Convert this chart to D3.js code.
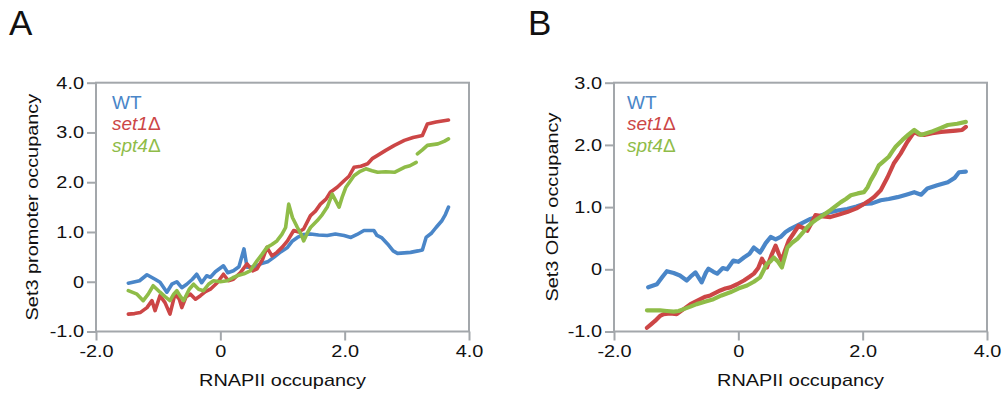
<!DOCTYPE html>
<html>
<head>
<meta charset="utf-8">
<script src="https://cdn.jsdelivr.net/npm/d3@7"></script>
<style>
  body { margin: 0; background: #fff; }
  text { font-family: "Liberation Sans", Arial, sans-serif; }
</style>
</head>
<body>
<script>
// ---- data ----
const strains = ["WT", "set1", "spt4"];
const colors = ["#4a86c8", "#cc4646", "#8fbc48"];

const xTicks = [-2, 0, 2, 4];
const xTickLabels = ["-2.0", "0", "2.0", "4.0"];
const aYTicks = [-1, 0, 1, 2, 3, 4];
const aYTickLabels = ["-1.0", "0", "1.0", "2.0", "3.0", "4.0"];
const bYTicks = [-1, 0, 1, 2, 3];
const bYTickLabels = ["-1.0", "0", "1.0", "2.0", "3.0"];

// panel A: Set3 promoter occupancy vs RNAPII occupancy (null = gap in the trace)
const aWT = [[-1.48,-0.03],[-1.30,0.02],[-1.18,0.14],[-1.05,0.05],[-0.97,-0.01],[-0.86,-0.21],[-0.78,-0.05],[-0.70,0.0],
  [-0.62,-0.12],[-0.54,-0.05],[-0.45,0.05],[-0.38,0.15],[-0.30,-0.02],[-0.22,0.12],[-0.16,0.09],[-0.08,0.20],[0.05,0.32],
  [0.12,0.18],[0.21,0.22],[0.30,0.30],[0.38,0.66],[0.43,0.29],[0.55,0.30],[0.65,0.36],[0.76,0.40],[0.86,0.49],[0.97,0.60],
  [1.08,0.69],[1.16,0.82],[1.24,0.89],[1.34,0.95],[1.45,0.96],[1.58,0.94],[1.72,0.93],[1.85,0.96],[1.99,0.93],[2.10,0.89],
  [2.20,0.95],[2.31,1.03],[2.47,1.03],[2.52,0.93],[2.60,0.88],[2.69,0.76],[2.78,0.62],[2.85,0.57],[2.96,0.58],[3.06,0.59],
  [3.18,0.62],[3.25,0.64],[3.31,0.89],[3.40,0.98],[3.47,1.09],[3.56,1.22],[3.62,1.35],[3.67,1.50]];
const aSet1 = [[-1.48,-0.65],[-1.38,-0.64],[-1.29,-0.62],[-1.18,-0.52],[-1.10,-0.38],[-1.05,-0.58],[-0.97,-0.28],[-0.89,-0.42],
  [-0.81,-0.65],[-0.73,-0.25],[-0.66,-0.35],[-0.62,-0.52],[-0.55,-0.30],[-0.48,-0.25],[-0.40,-0.35],[-0.32,-0.28],
  [-0.24,-0.20],[-0.16,-0.15],[-0.05,-0.02],[0.05,0.15],[0.13,0.02],[0.21,0.05],[0.32,0.18],[0.43,0.36],[0.52,0.22],
  [0.59,0.26],[0.68,0.45],[0.75,0.69],[0.83,0.52],[0.91,0.59],[1.00,0.70],[1.08,0.82],[1.18,1.03],[1.26,1.00],[1.34,1.06],
  [1.45,1.33],[1.53,1.42],[1.61,1.56],[1.70,1.66],[1.77,1.80],[1.88,1.90],[1.99,2.03],[2.07,2.12],[2.15,2.30],[2.26,2.32],
  [2.37,2.37],[2.45,2.48],[2.53,2.54],[2.66,2.64],[2.80,2.74],[2.96,2.84],[3.10,2.90],[3.25,2.94],[3.33,3.17],[3.47,3.21],
  [3.57,3.23],[3.67,3.25]];
const aSpt4 = [[-1.48,-0.18],[-1.34,-0.25],[-1.24,-0.38],[-1.16,-0.25],[-1.08,-0.08],[-0.97,-0.21],[-0.89,-0.30],[-0.81,-0.38],
  [-0.75,-0.25],[-0.70,-0.18],[-0.64,-0.30],[-0.59,-0.38],[-0.50,-0.15],[-0.43,-0.05],[-0.35,-0.15],[-0.27,-0.18],
  [-0.19,-0.05],[-0.11,0.02],[0.0,0.0],[0.11,0.02],[0.20,0.08],[0.27,0.12],[0.38,0.16],[0.48,0.22],[0.59,0.42],[0.67,0.55],
  [0.75,0.69],[0.83,0.75],[0.91,0.82],[0.99,0.95],[1.05,1.09],[1.10,1.56],[1.16,1.29],[1.24,1.09],[1.30,0.95],[1.34,0.82],
  [1.40,0.98],[1.45,1.09],[1.56,1.23],[1.64,1.35],[1.72,1.50],[1.80,1.76],[1.86,1.62],[1.91,1.50],[1.96,1.70],[2.02,1.90],
  [2.15,2.13],[2.25,2.22],[2.34,2.27],[2.44,2.23],[2.53,2.20],[2.66,2.21],[2.80,2.20],[2.96,2.30],[3.05,2.33],[3.15,2.40],
  [3.16,null],[3.17,2.57],[3.25,2.65],[3.33,2.74],[3.50,2.77],[3.60,2.82],[3.67,2.87]];

// panel B: Set3 ORF occupancy vs RNAPII occupancy
const bWT = [[-1.45,-0.29],[-1.31,-0.24],[-1.22,-0.12],[-1.15,-0.03],[-1.04,-0.06],[-0.94,-0.10],[-0.83,-0.18],[-0.75,-0.10],
  [-0.69,-0.05],[-0.59,-0.21],[-0.52,-0.05],[-0.48,0.01],[-0.40,-0.04],[-0.34,-0.07],[-0.25,0.02],[-0.18,0.0],[-0.08,0.14],
  [0.0,0.12],[0.09,0.19],[0.18,0.25],[0.25,0.35],[0.35,0.27],[0.44,0.42],[0.52,0.52],[0.60,0.48],[0.68,0.52],[0.76,0.60],
  [0.84,0.65],[1.00,0.73],[1.16,0.81],[1.32,0.86],[1.48,0.92],[1.62,0.95],[1.75,0.97],[1.90,1.01],[2.02,1.05],[2.15,1.06],
  [2.29,1.11],[2.42,1.13],[2.56,1.16],[2.70,1.20],[2.83,1.24],[2.94,1.20],[3.04,1.30],[3.20,1.35],[3.37,1.40],[3.48,1.47],
  [3.55,1.56],[3.66,1.57]];
const bSet1 = [[-1.47,-0.94],[-1.40,-0.88],[-1.34,-0.83],[-1.26,-0.75],[-1.20,-0.72],[-1.10,-0.71],[-0.99,-0.72],[-0.88,-0.64],
  [-0.77,-0.56],[-0.69,-0.52],[-0.61,-0.48],[-0.53,-0.44],[-0.45,-0.42],[-0.37,-0.38],[-0.29,-0.34],[-0.21,-0.31],
  [-0.13,-0.29],[-0.02,-0.24],[0.09,-0.18],[0.18,-0.12],[0.25,-0.07],[0.32,0.02],[0.38,0.17],[0.46,0.03],[0.53,0.22],
  [0.60,0.38],[0.65,0.25],[0.70,0.14],[0.75,0.30],[0.81,0.46],[0.89,0.58],[0.97,0.70],[1.05,0.66],[1.11,0.62],[1.18,0.75],
  [1.24,0.87],[1.36,0.85],[1.48,0.84],[1.62,0.88],[1.75,0.92],[1.90,0.98],[2.02,1.05],[2.10,1.10],[2.18,1.16],[2.29,1.27],
  [2.40,1.48],[2.50,1.70],[2.61,1.86],[2.72,2.05],[2.83,2.21],[2.90,2.17],[2.99,2.16],[3.12,2.19],[3.26,2.21],[3.50,2.23],
  [3.60,2.24],[3.66,2.29]];
const bSpt4 = [[-1.47,-0.66],[-1.36,-0.66],[-1.26,-0.66],[-1.15,-0.67],[-1.04,-0.68],[-0.96,-0.67],[-0.88,-0.64],[-0.77,-0.60],
  [-0.67,-0.56],[-0.54,-0.52],[-0.40,-0.48],[-0.27,-0.42],[-0.13,-0.37],[0.0,-0.31],[0.14,-0.26],[0.25,-0.20],[0.35,-0.13],
  [0.46,0.09],[0.52,0.13],[0.57,0.19],[0.64,0.12],[0.70,0.03],[0.79,0.35],[0.87,0.43],[0.95,0.49],[1.03,0.58],[1.11,0.68],
  [1.19,0.75],[1.27,0.81],[1.38,0.88],[1.48,0.95],[1.57,1.02],[1.65,1.08],[1.73,1.13],[1.81,1.19],[1.92,1.22],[2.02,1.24],
  [2.08,1.32],[2.13,1.43],[2.20,1.55],[2.26,1.67],[2.34,1.74],[2.42,1.81],[2.48,1.90],[2.53,1.97],[2.64,2.08],[2.74,2.17],
  [2.83,2.24],[2.94,2.16],[3.10,2.21],[3.25,2.27],[3.37,2.32],[3.52,2.34],[3.66,2.37]];

// ---- layout ----
const W = 1003, H = 395;
const plotTop = 82.7, plotBottom = 331.5;

const svg = d3.select("body").append("svg")
    .attr("width", W)
    .attr("height", H);

// widen text along its own direction (the source font is set wide)
function stretch(sel, k) {
    sel.each(function () {
        const L = this.getComputedTextLength();
        d3.select(this).attr("textLength", L * k).attr("lengthAdjust", "spacingAndGlyphs");
    });
}

function drawPanel(o) {
    const x = d3.scaleLinear().domain([-2, 4]).range([o.left, o.right]);
    const y = d3.scaleLinear().domain(o.yDomain).range([plotBottom, plotTop]);
    const axisColor = "#a3a7ab";

    const line = d3.line()
        .defined(d => d[1] != null)
        .x(d => x(d[0]))
        .y(d => y(d[1]));

    // series, WT first so the mutants sit on top
    o.series.forEach((s, i) => {
        svg.append("path")
            .datum(s)
            .attr("fill", "none")
            .attr("stroke", colors[i])
            .attr("stroke-width", o.lineWidth)
            .attr("stroke-linejoin", "round")
            .attr("stroke-linecap", "round")
            .attr("d", line);
    });

    // frame
    svg.append("rect")
        .attr("x", o.left)
        .attr("y", plotTop)
        .attr("width", o.right - o.left)
        .attr("height", plotBottom - plotTop)
        .attr("fill", "none")
        .attr("stroke", axisColor)
        .attr("stroke-width", 2);

    // axes
    const gx = svg.append("g")
        .attr("transform", "translate(0," + plotBottom + ")")
        .call(d3.axisBottom(x).tickValues(xTicks).tickFormat((d, i) => xTickLabels[i]).tickSize(9).tickPadding(4).tickSizeOuter(0));
    const gy = svg.append("g")
        .attr("transform", "translate(" + o.left + ",0)")
        .call(d3.axisLeft(y).tickValues(o.yTicks).tickFormat((d, i) => o.yTickLabels[i]).tickSize(9).tickPadding(3).tickSizeOuter(0));

    [gx, gy].forEach(g => {
        g.select(".domain").remove();
        g.selectAll(".tick line").attr("stroke", axisColor).attr("stroke-width", 2);
        g.selectAll(".tick text")
            .attr("fill", "#111")
            .attr("font-size", 17)
            .attr("font-family", "Liberation Sans, Arial, sans-serif")
            .call(stretch, 1.17);
    });

    // axis titles
    svg.append("text")
        .attr("x", (o.left + o.right) / 2)
        .attr("y", 386)
        .attr("text-anchor", "middle")
        .attr("font-size", 17)
        .attr("fill", "#111")
        .text("RNAPII occupancy")
        .call(stretch, 1.17);

    svg.append("text")
        .attr("transform", "translate(" + o.yTitleX + "," + ((plotTop + plotBottom) / 2) + ") rotate(-90)")
        .attr("text-anchor", "middle")
        .attr("font-size", 17)
        .attr("fill", "#111")
        .text(o.yTitle)
        .call(stretch, 1.17);

    // legend
    const legendY = [109, 130, 152];
    strains.forEach((name, i) => {
        const t = svg.append("text")
            .attr("x", o.left + o.legendDx)
            .attr("y", legendY[i])
            .attr("font-size", 19)
            .attr("fill", colors[i]);
        if (i === 0) {
            t.text(name);
        } else {
            t.append("tspan").attr("font-style", "italic").text(name);
            t.append("tspan").text("\u0394");
        }
    });

    // panel letter
    svg.append("text")
        .attr("x", o.letterX)
        .attr("y", 35)
        .attr("font-size", 35)
        .attr("fill", "#111")
        .text(o.letter);
}

drawPanel({
    letter: "A", letterX: 9,
    left: 96, right: 469,
    yDomain: [-1, 4], yTicks: aYTicks, yTickLabels: aYTickLabels,
    yTitle: "Set3 promoter occupancy", yTitleX: 38,
    legendDx: 16, lineWidth: 3.6,
    series: [aWT, aSet1, aSpt4]
});

drawPanel({
    letter: "B", letterX: 528,
    left: 614, right: 987,
    yDomain: [-1, 3], yTicks: bYTicks, yTickLabels: bYTickLabels,
    yTitle: "Set3 ORF occupancy", yTitleX: 558,
    legendDx: 13, lineWidth: 4.2,
    series: [bWT, bSet1, bSpt4]
});
</script>
</body>
</html>
